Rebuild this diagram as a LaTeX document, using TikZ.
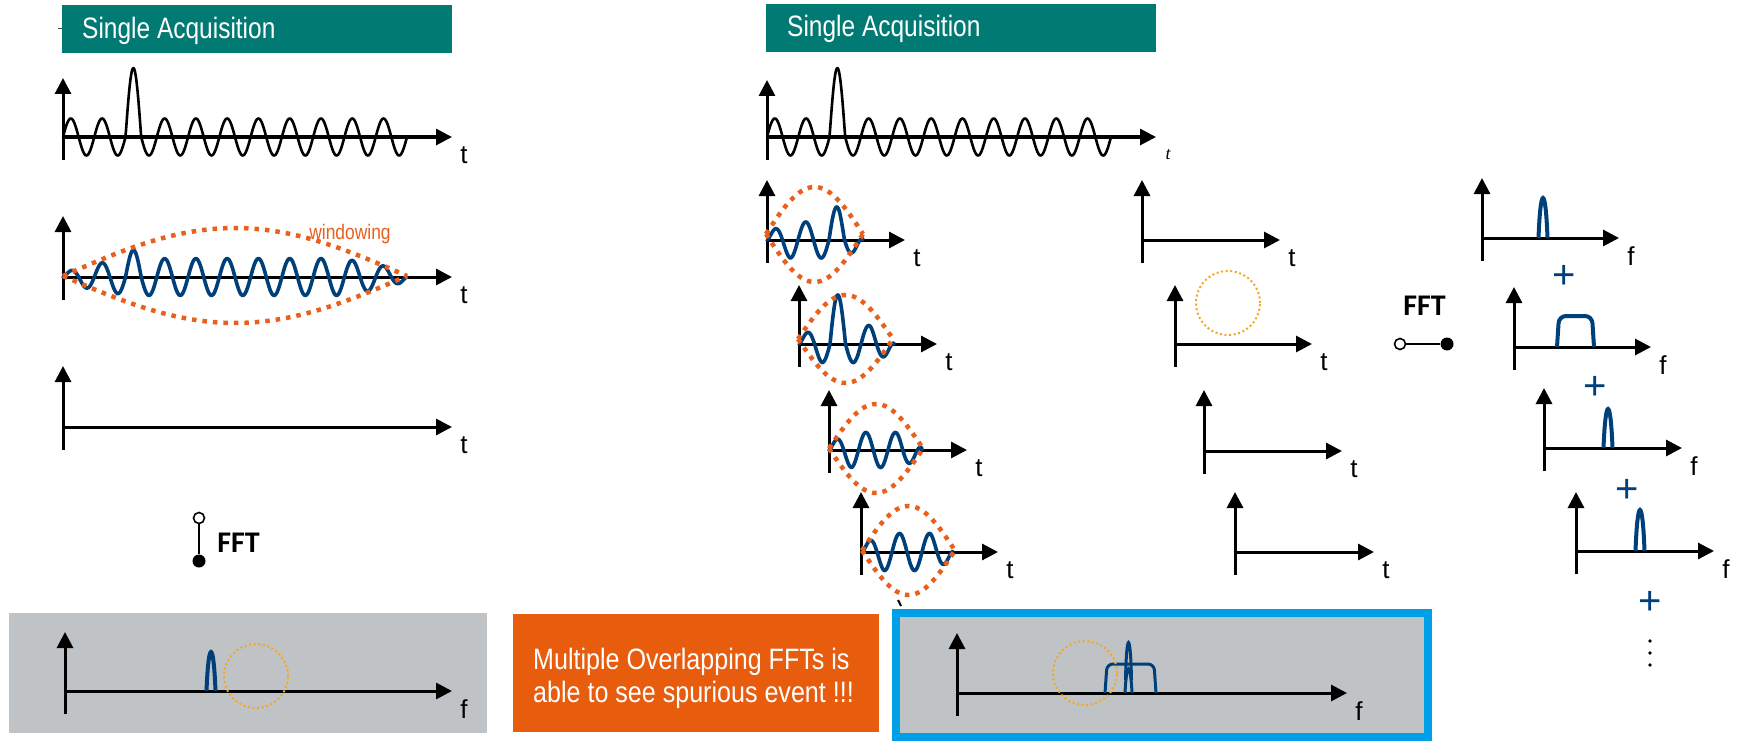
\documentclass[tikz,border=0pt]{standalone}
\usepackage{fontspec}
\setmainfont{Liberation Sans}
\newfontfamily\narrowfont[FakeStretch=0.83]{Liberation Sans}
\newfontfamily\notefont[FakeStretch=0.85]{Liberation Sans}
\newfontfamily\fftfont{Carlito}
\newfontfamily\seriffont{Liberation Serif}
\usetikzlibrary{arrows.meta,calc}

\definecolor{acqteal}{RGB}{0,122,114}
\definecolor{sigblue}{RGB}{0,64,122}
\definecolor{winorange}{RGB}{232,96,28}
\definecolor{boxorange}{RGB}{232,92,14}
\definecolor{ringyellow}{RGB}{245,166,35}
\definecolor{panelgray}{RGB}{191,195,198}
\definecolor{framecyan}{RGB}{0,160,233}

\newcommand\labelfont{\fontsize{26pt}{28pt}\selectfont}

% axes: name, x0, y0, y of arrow tip, x of arrow tip, label
\newcommand\plotaxes[6]{%
  \coordinate (#1-o) at (#2,#3);
  \coordinate (#1-b) at (#2,#3+23);
  \coordinate (#1-t) at (#2,#4);
  \coordinate (#1-e) at (#5,#3);
  \draw[axisline] (#1-b) -- (#1-t);
  \draw[axisline] (#1-o) -- (#1-e);
  \node[axislabel] (#1-l) at ($(#1-e)+(12,18)$) {#6};
}

% raw acquisition: sine with one tall transient
\newcommand\rawsignal[2]{%
  \draw[rawsig] plot[domain=0:344,samples=460]
    ({#1+\x},{#2-(18.5+50.5*(\x>62.54)*(\x<78.18))*sin(\x/31.27*360)});
}

% windowed record: x0, y0, length, period, amplitude, spike start (periods), spike amplitude, taper
\newcommand\winsignal[8]{%
  \draw[sigwave] plot[domain=0:#3,samples=260]
    ({#1+\x},{#2-(#5+(#7-#5)*(\x>(#6*#4))*(\x<((#6+0.5)*#4)))*win(\x/#3,#8)*sin(\x/#4*360)});
}

% window envelope: x0, centre y, length, upper and lower height
\newcommand\envelope[5]{%
  \draw[envdots] plot[domain=0:#3,samples=90] ({#1+\x},{#2-#4*sin(\x/#3*180)});
  \draw[envdots] plot[domain=0:#3,samples=90] ({#1+\x},{#2+#5*sin(\x/#3*180)});
}

% narrow spectral line: x, baseline y, height
\newcommand\specpeak[3]{%
  \draw[specline] (#1-4.5,#2) .. controls (#1-2.5,#2-1.333*#3) and (#1+2.5,#2-1.333*#3) .. (#1+4.5,#2);
}

\begin{document}
\begin{tikzpicture}[x=1pt,y=-1pt,
  declare function={win(\u,\k)=min(1,\k*sqrt(abs(sin(180*\u))));},
  axisline/.style={line width=3pt,-{Triangle[length=16pt,width=16pt]}},
  axislabel/.style={inner sep=0pt,font=\labelfont},
  rawsig/.style={line width=2.6pt,black,line join=round},
  sigwave/.style={line width=3.6pt,sigblue,line join=round,line cap=round},
  envdots/.style={line width=4.5pt,winorange,dash pattern=on 4.5pt off 6pt},
  ring/.style={circle,draw=ringyellow,line width=2pt,dash pattern=on 2pt off 2.6pt,minimum size=64pt,inner sep=0pt},
  specline/.style={line width=4pt,sigblue},
  thinspec/.style={line width=3pt,sigblue},
  titletext/.style={inner sep=0pt,text=white,font=\narrowfont\fontsize{29.5pt}{33pt}\selectfont},
  notetext/.style={inner sep=0pt,text=white,font=\notefont\fontsize{29.5pt}{33pt}\selectfont},
  fftlabel/.style={inner sep=0pt,font=\fftfont\bfseries\fontsize{30pt}{32pt}\selectfont},
  plussign/.style={inner sep=0pt,text=sigblue,font=\fontsize{40pt}{40pt}\selectfont},
  openend/.style={circle,draw=black,fill=white,line width=1.6pt,minimum size=11pt,inner sep=0pt},
  closedend/.style={circle,fill=black,minimum size=13pt,inner sep=0pt},
  fftlink/.style={line width=1.6pt,black},
  moredot/.style={circle,fill=black,minimum size=3.6pt,inner sep=0pt}]

\useasboundingbox (0,0) rectangle (1739,741);
\fill[white] (0,0) rectangle (1739,741);

% ---------- panels and boxes ----------
\fill[acqteal] (62,5) rectangle (452,53);
\fill[acqteal] (766,4) rectangle (1156,52);
\draw[line width=1.2pt,black!70] (58,28.5) -- (62,28.5);
\node[titletext,anchor=base west] (title-l) at (82,39) {Single Acquisition};
\node[titletext,anchor=base west] (title-r) at (787,37) {Single Acquisition};

\fill[panelgray] (9,613) rectangle (487,733);
\fill[boxorange] (513,614) rectangle (879,732);
\node[notetext,anchor=base west] (note-1) at (533,669) {Multiple Overlapping FFTs is};
\node[notetext,anchor=base west] (note-2) at (533,702) {able to see spurious event !!!};
\fill[framecyan] (892,609) rectangle (1432,741);
\fill[panelgray] (900,617) rectangle (1424,733);

% ---------- left column: single long record ----------
\plotaxes{la}{63}{137}{78}{452}{t}
\rawsignal{63}{137}

\plotaxes{lb}{63}{277}{216}{452}{t}
\winsignal{63}{277}{344}{31.27}{18.5}{2}{27}{1.3}
\envelope{63}{276}{344}{48}{47}
\node[inner sep=0pt,text=winorange,font=\narrowfont\fontsize{21pt}{23pt}\selectfont] (winlabel) at (350,234) {windowing};

\plotaxes{lc}{63}{427}{366}{452}{t}

\node[fftlabel] (fft-l) at (238.5,543) {FFT};
\node[openend] (fft-l-in) at (199,518) {};
\node[closedend] (fft-l-out) at (199,561) {};
\draw[fftlink] (fft-l-in) -- (fft-l-out);

\plotaxes{bl}{65}{691}{632}{452}{f}
\specpeak{211}{691}{39}
\node[ring] (ring-bl) at (256,676) {};

% ---------- right part: overlapping records ----------
\plotaxes{ra}{767}{137}{80}{1156}{\seriffont\itshape\fontsize{18pt}{20pt}\selectfont t}
\rawsignal{767}{137}

\plotaxes{wa}{767}{240}{180}{905}{t}
\winsignal{767}{240}{96}{31}{18}{2}{33}{1.2}
\envelope{766}{234}{97}{47}{48}

\plotaxes{wb}{799}{344}{285}{937}{t}
\winsignal{799}{344}{95}{31}{18.5}{1}{49}{1.2}
\envelope{798}{339}{95}{44}{44}

\plotaxes{wc}{829}{450}{390}{967}{t}
\winsignal{829}{450}{93}{29.5}{17.5}{0}{17.5}{1.2}
\envelope{829}{448.5}{94}{44.5}{44.5}

\plotaxes{wd}{861}{552}{492}{998}{t}
\winsignal{862}{552}{91}{30}{18.5}{0}{18.5}{1.2}
\envelope{862}{550.5}{93}{44.5}{44.5}
\draw[line width=2pt] (898,600) -- (901,606);

% empty time records
\plotaxes{ea}{1142}{240}{180}{1280}{t}
\plotaxes{eb}{1175}{344}{285}{1312}{t}
\node[ring] (ring-eb) at (1228,303) {};
\plotaxes{ec}{1204}{451}{390}{1342}{t}
\plotaxes{ed}{1235}{552}{492}{1374}{t}

\node[fftlabel] (fft-r) at (1424.5,306) {FFT};
\node[openend] (fft-r-in) at (1400,344) {};
\node[closedend] (fft-r-out) at (1447,344) {};
\draw[fftlink] (fft-r-in) -- (fft-r-out);

% spectra of the individual records
\plotaxes{sa}{1482}{238}{178}{1619}{f}
\specpeak{1543}{238}{40}
\node[plussign] (plus-1) at (1564,277) {+};

\plotaxes{sb}{1514}{347}{287}{1651}{f}
\draw[specline,rounded corners=7pt] (1557,347) -- (1559,316) -- (1592,316) -- (1594,347);
\node[plussign] (plus-2) at (1595,388) {+};

\plotaxes{sc}{1544}{448}{388}{1682}{f}
\specpeak{1608}{448}{39}
\node[plussign] (plus-3) at (1627,491) {+};

\plotaxes{sd}{1576}{551}{492}{1714}{f}
\specpeak{1640}{551}{41}
\node[plussign] (plus-4) at (1650,603) {+};
\node[moredot] (more-1) at (1650,641) {};
\node[moredot] (more-2) at (1650,653) {};
\node[moredot] (more-3) at (1650,665) {};

% combined spectrum
\plotaxes{bf}{957}{693}{633}{1347}{f}
\draw[thinspec,rounded corners=6pt] (1105,693) -- (1107,664) -- (1154,664) -- (1156,693);
\draw[thinspec] (1125,693) .. controls (1126.5,661) and (1130.5,661) .. (1132,693);
\draw[thinspec] (1125.5,680) .. controls (1126.5,630) and (1130.5,630) .. (1131.5,680);
\node[ring] (ring-bf) at (1085,673) {};

\end{tikzpicture}
\end{document}
